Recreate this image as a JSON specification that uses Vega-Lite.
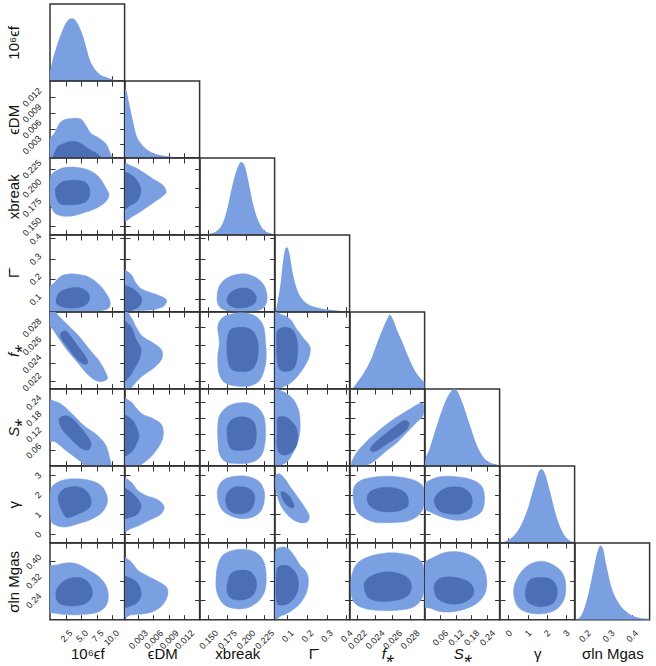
{
"$schema":"https://vega.github.io/schema/vega-lite/v6.json",
"background":"white",
"padding":{"left":5,"top":3,"right":0,"bottom":0},
"config":{
 "font":"Liberation Sans",
 "view":{"stroke":"#333333","strokeWidth":1.5},
 "axis":{"grid":false,"domain":false,"tickSize":-5,"tickColor":"#333333","tickWidth":1,"labelFontSize":9,"labelColor":"#222222","labelAngle":-45,"labelFont":"Liberation Sans","labelFlush":false,"labelOverlap":false,"titleFont":"Liberation Sans","titleFontSize":15,"titleFontWeight":"normal","titleColor":"#111111"},
 "axisX":{"labelPadding":16.5},
 "axisY":{"labelPadding":15.5},
 "concat":{"spacing":0},
 "line":{"interpolate":"cardinal-closed","strokeWidth":0.5},
 "area":{"interpolate":"monotone","color":"#7aa0e1"}
},
"datasets":{
"d0":[{"x":0,"d":0.121},{"x":0.43,"d":0.273},{"x":1.23,"d":0.489},{"x":2.03,"d":0.662},{"x":2.83,"d":0.784},{"x":3.52,"d":0.814},{"x":4.05,"d":0.792},{"x":4.69,"d":0.706},{"x":5.33,"d":0.576},{"x":5.87,"d":0.424},{"x":6.4,"d":0.273},{"x":7.09,"d":0.165},{"x":7.89,"d":0.091},{"x":8.96,"d":0.048},{"x":10.3,"d":0.013},{"x":11.6,"d":0.002},{"x":12,"d":0}],
"d1":[{"x":0.0005,"d":0.9},{"x":0.0007,"d":0.89},{"x":0.0013,"d":0.709},{"x":0.002,"d":0.491},{"x":0.0026,"d":0.317},{"x":0.0036,"d":0.187},{"x":0.0049,"d":0.1},{"x":0.0065,"d":0.048},{"x":0.0085,"d":0.022},{"x":0.0111,"d":0.004},{"x":0.015,"d":0}],
"d2":[{"x":0.139,"d":0},{"x":0.1516,"d":0.013},{"x":0.1605,"d":0.043},{"x":0.1695,"d":0.151},{"x":0.1762,"d":0.366},{"x":0.183,"d":0.668},{"x":0.1897,"d":0.884},{"x":0.1942,"d":0.948},{"x":0.1986,"d":0.905},{"x":0.2045,"d":0.668},{"x":0.2099,"d":0.409},{"x":0.2166,"d":0.194},{"x":0.2242,"d":0.065},{"x":0.2323,"d":0.022},{"x":0.239,"d":0.004}],
"d3":[{"x":0.037,"d":0},{"x":0.042,"d":0.02},{"x":0.049,"d":0.118},{"x":0.066,"d":0.376},{"x":0.079,"d":0.677},{"x":0.091,"d":0.828},{"x":0.1,"d":0.841},{"x":0.11,"d":0.763},{"x":0.127,"d":0.505},{"x":0.144,"d":0.333},{"x":0.165,"d":0.204},{"x":0.198,"d":0.11},{"x":0.25,"d":0.054},{"x":0.318,"d":0.024},{"x":0.403,"d":0.006},{"x":0.417,"d":0.005}],
"d4":[{"x":0.0212,"d":0},{"x":0.0215,"d":0.01},{"x":0.022,"d":0.082},{"x":0.0228,"d":0.212},{"x":0.0236,"d":0.384},{"x":0.0243,"d":0.6},{"x":0.0249,"d":0.773},{"x":0.0255,"d":0.924},{"x":0.0257,"d":0.968},{"x":0.0261,"d":0.903},{"x":0.0266,"d":0.752},{"x":0.0272,"d":0.6},{"x":0.0278,"d":0.428},{"x":0.0286,"d":0.233},{"x":0.0293,"d":0.125},{"x":0.0297,"d":0.082}],
"d5":[{"x":0.003,"d":0.047},{"x":0.0055,"d":0.091},{"x":0.0183,"d":0.198},{"x":0.0437,"d":0.478},{"x":0.0692,"d":0.737},{"x":0.0946,"d":0.931},{"x":0.1137,"d":0.996},{"x":0.126,"d":0.974},{"x":0.1455,"d":0.823},{"x":0.171,"d":0.565},{"x":0.1964,"d":0.306},{"x":0.2218,"d":0.134},{"x":0.2473,"d":0.047},{"x":0.2791,"d":0.013},{"x":0.288,"d":0.004}],
"d6":[{"x":-0.44,"d":0},{"x":-0.039,"d":0.033},{"x":0.31,"d":0.098},{"x":0.66,"d":0.227},{"x":1.01,"d":0.443},{"x":1.36,"d":0.745},{"x":1.62,"d":0.94},{"x":1.74,"d":0.961},{"x":1.88,"d":0.918},{"x":2.14,"d":0.702},{"x":2.4,"d":0.443},{"x":2.67,"d":0.227},{"x":2.93,"d":0.098},{"x":3.19,"d":0.033},{"x":3.45,"d":0.011}],
"d7":[{"x":0.16,"d":0},{"x":0.1733,"d":0.011},{"x":0.1943,"d":0.106},{"x":0.2153,"d":0.321},{"x":0.2363,"d":0.623},{"x":0.2545,"d":0.882},{"x":0.2671,"d":0.968},{"x":0.2783,"d":0.925},{"x":0.2923,"d":0.709},{"x":0.3113,"d":0.45},{"x":0.3413,"d":0.235},{"x":0.3763,"d":0.106},{"x":0.4113,"d":0.041},{"x":0.4673,"d":0.011},{"x":0.475,"d":0.01}],
"p10":[{"c":"o","x":-0.4,"y":-0.0003},{"c":"o","x":-0.4,"y":0.0032},{"c":"o","x":0.69,"y":0.0051},{"c":"o","x":1.76,"y":0.0073},{"c":"o","x":3.36,"y":0.0079},{"c":"o","x":4.96,"y":0.0078},{"c":"o","x":5.87,"y":0.0064},{"c":"o","x":6.56,"y":0.0051},{"c":"o","x":7.89,"y":0.0042},{"c":"o","x":8.96,"y":0.0032},{"c":"o","x":9.6,"y":0.0016},{"c":"o","x":9.8,"y":-0.0003},{"c":"o","x":5,"y":-0.0003},
{"c":"i","x":0.69,"y":-0.0003},{"c":"i","x":1.07,"y":0.0023},{"c":"i","x":2.29,"y":0.0032},{"c":"i","x":3.63,"y":0.0036},{"c":"i","x":4.96,"y":0.0032},{"c":"i","x":6.29,"y":0.0021},{"c":"i","x":7.63,"y":0.0012},{"c":"i","x":8.43,"y":-0.0003},{"c":"i","x":4.5,"y":-0.0003}],
"p20":[{"c":"o","x":0.43,"y":0.219},{"c":"o","x":2.03,"y":0.226},{"c":"o","x":4.16,"y":0.227},{"c":"o","x":6.29,"y":0.223},{"c":"o","x":7.89,"y":0.214},{"c":"o","x":9.07,"y":0.199},{"c":"o","x":9.49,"y":0.191},{"c":"o","x":8.96,"y":0.182},{"c":"o","x":7.36,"y":0.173},{"c":"o","x":5.23,"y":0.167},{"c":"o","x":3.09,"y":0.163},{"c":"o","x":1.23,"y":0.165},{"c":"o","x":0.32,"y":0.173},{"c":"o","x":-0.2,"y":0.193},{"c":"o","x":0,"y":0.21},
{"c":"i","x":0.96,"y":0.2},{"c":"i","x":2.03,"y":0.208},{"c":"i","x":4.16,"y":0.21},{"c":"i","x":5.76,"y":0.207},{"c":"i","x":6.4,"y":0.197},{"c":"i","x":6.19,"y":0.186},{"c":"i","x":5.23,"y":0.18},{"c":"i","x":3.36,"y":0.178},{"c":"i","x":1.76,"y":0.179},{"c":"i","x":1.07,"y":0.186},{"c":"i","x":0.85,"y":0.195}],
"p21":[{"c":"o","x":0.0001,"y":0.2295},{"c":"o","x":0.002,"y":0.228},{"c":"o","x":0.0039,"y":0.221},{"c":"o","x":0.0059,"y":0.212},{"c":"o","x":0.0078,"y":0.204},{"c":"o","x":0.0085,"y":0.195},{"c":"o","x":0.0078,"y":0.189},{"c":"o","x":0.0059,"y":0.18},{"c":"o","x":0.0039,"y":0.171},{"c":"o","x":0.002,"y":0.163},{"c":"o","x":0.0001,"y":0.158},{"c":"o","x":0.0001,"y":0.195},
{"c":"i","x":0.0001,"y":0.219},{"c":"i","x":0.0017,"y":0.217},{"c":"i","x":0.003,"y":0.208},{"c":"i","x":0.0036,"y":0.197},{"c":"i","x":0.003,"y":0.184},{"c":"i","x":0.0017,"y":0.178},{"c":"i","x":0.0001,"y":0.173},{"c":"i","x":0.0001,"y":0.196}],
"p30":[{"c":"o","x":-0.4,"y":0.025},{"c":"o","x":-0.4,"y":0.139},{"c":"o","x":0.69,"y":0.18},{"c":"o","x":1.76,"y":0.213},{"c":"o","x":3.09,"y":0.224},{"c":"o","x":4.69,"y":0.221},{"c":"o","x":6.29,"y":0.208},{"c":"o","x":7.89,"y":0.172},{"c":"o","x":8.96,"y":0.131},{"c":"o","x":9.65,"y":0.09},{"c":"o","x":9.49,"y":0.057},{"c":"o","x":8.43,"y":0.043},{"c":"o","x":6.83,"y":0.03},{"c":"o","x":3,"y":0.025},
{"c":"i","x":0.96,"y":0.09},{"c":"i","x":1.49,"y":0.131},{"c":"i","x":2.83,"y":0.151},{"c":"i","x":4.69,"y":0.156},{"c":"i","x":5.87,"y":0.139},{"c":"i","x":6.4,"y":0.107},{"c":"i","x":5.87,"y":0.074},{"c":"i","x":4.43,"y":0.057},{"c":"i","x":2.56,"y":0.057},{"c":"i","x":1.39,"y":0.069}],
"p31":[{"c":"o","x":0.0001,"y":0.237},{"c":"o","x":0.0017,"y":0.221},{"c":"o","x":0.0026,"y":0.18},{"c":"o","x":0.0039,"y":0.147},{"c":"o","x":0.0065,"y":0.123},{"c":"o","x":0.0085,"y":0.098},{"c":"o","x":0.0081,"y":0.066},{"c":"o","x":0.0065,"y":0.049},{"c":"o","x":0.0046,"y":0.044},{"c":"o","x":0.002,"y":0.041},{"c":"o","x":0.0001,"y":0.03},{"c":"o","x":0.0001,"y":0.13},
{"c":"i","x":0.0001,"y":0.164},{"c":"i","x":0.0017,"y":0.156},{"c":"i","x":0.003,"y":0.131},{"c":"i","x":0.0038,"y":0.098},{"c":"i","x":0.0032,"y":0.062},{"c":"i","x":0.0017,"y":0.044},{"c":"i","x":0.0001,"y":0.03},{"c":"i","x":0.0001,"y":0.1}],
"p32":[{"c":"o","x":0.1619,"y":0.115},{"c":"o","x":0.165,"y":0.164},{"c":"o","x":0.174,"y":0.201},{"c":"o","x":0.1874,"y":0.221},{"c":"o","x":0.2009,"y":0.224},{"c":"o","x":0.2143,"y":0.205},{"c":"o","x":0.2242,"y":0.172},{"c":"o","x":0.2287,"y":0.123},{"c":"o","x":0.2278,"y":0.079},{"c":"o","x":0.2211,"y":0.049},{"c":"o","x":0.2054,"y":0.037},{"c":"o","x":0.1829,"y":0.037},{"c":"o","x":0.1695,"y":0.049},{"c":"o","x":0.1632,"y":0.074},
{"c":"i","x":0.1753,"y":0.098},{"c":"i","x":0.1807,"y":0.134},{"c":"i","x":0.1942,"y":0.154},{"c":"i","x":0.2063,"y":0.147},{"c":"i","x":0.214,"y":0.115},{"c":"i","x":0.2122,"y":0.079},{"c":"i","x":0.2009,"y":0.059},{"c":"i","x":0.1874,"y":0.057},{"c":"i","x":0.1776,"y":0.072}],
"p40":[{"c":"o","x":-0.4,"y":0.0294},{"c":"o","x":0.43,"y":0.0299},{"c":"o","x":1.49,"y":0.0292},{"c":"o","x":3.09,"y":0.0281},{"c":"o","x":4.69,"y":0.027},{"c":"o","x":6.29,"y":0.0256},{"c":"o","x":7.89,"y":0.0243},{"c":"o","x":8.96,"y":0.023},{"c":"o","x":9.23,"y":0.0223},{"c":"o","x":8.43,"y":0.022},{"c":"o","x":7.36,"y":0.0221},{"c":"o","x":6.03,"y":0.0228},{"c":"o","x":4.43,"y":0.0241},{"c":"o","x":2.83,"y":0.0254},{"c":"o","x":1.49,"y":0.0267},{"c":"o","x":0.43,"y":0.0278},{"c":"o","x":-0.4,"y":0.0283},
{"c":"i","x":1.76,"y":0.0274},{"c":"i","x":2.56,"y":0.0276},{"c":"i","x":3.36,"y":0.027},{"c":"i","x":4.43,"y":0.026},{"c":"i","x":5.49,"y":0.025},{"c":"i","x":6.03,"y":0.0243},{"c":"i","x":5.87,"y":0.0239},{"c":"i","x":4.96,"y":0.0241},{"c":"i","x":3.89,"y":0.0248},{"c":"i","x":2.83,"y":0.0258},{"c":"i","x":2.03,"y":0.0265},{"c":"i","x":1.65,"y":0.027}],
"p41":[{"c":"o","x":0.0001,"y":0.0299},{"c":"o","x":0.0017,"y":0.0291},{"c":"o","x":0.0026,"y":0.0281},{"c":"o","x":0.0039,"y":0.027},{"c":"o","x":0.0059,"y":0.0263},{"c":"o","x":0.0075,"y":0.0256},{"c":"o","x":0.0078,"y":0.0248},{"c":"o","x":0.0072,"y":0.0241},{"c":"o","x":0.0059,"y":0.0234},{"c":"o","x":0.0039,"y":0.0226},{"c":"o","x":0.0026,"y":0.0219},{"c":"o","x":0.0013,"y":0.0211},{"c":"o","x":0.0001,"y":0.0211},{"c":"o","x":0.0001,"y":0.025},
{"c":"i","x":0.0001,"y":0.0285},{"c":"i","x":0.0017,"y":0.028},{"c":"i","x":0.0026,"y":0.0267},{"c":"i","x":0.0036,"y":0.0256},{"c":"i","x":0.0033,"y":0.0245},{"c":"i","x":0.0023,"y":0.0234},{"c":"i","x":0.0013,"y":0.0225},{"c":"i","x":0.0001,"y":0.0221},{"c":"i","x":0.0001,"y":0.025}],
"p42":[{"c":"o","x":0.1628,"y":0.0281},{"c":"o","x":0.1695,"y":0.0291},{"c":"o","x":0.1829,"y":0.0295},{"c":"o","x":0.1986,"y":0.0296},{"c":"o","x":0.2143,"y":0.0292},{"c":"o","x":0.2242,"y":0.0281},{"c":"o","x":0.2269,"y":0.0263},{"c":"o","x":0.2278,"y":0.0248},{"c":"o","x":0.2255,"y":0.0234},{"c":"o","x":0.2188,"y":0.0221},{"c":"o","x":0.2054,"y":0.0215},{"c":"o","x":0.1874,"y":0.0215},{"c":"o","x":0.1717,"y":0.0219},{"c":"o","x":0.1641,"y":0.023},{"c":"o","x":0.1628,"y":0.0248},{"c":"o","x":0.165,"y":0.0263},
{"c":"i","x":0.1762,"y":0.027},{"c":"i","x":0.1807,"y":0.0278},{"c":"i","x":0.1964,"y":0.028},{"c":"i","x":0.2099,"y":0.0276},{"c":"i","x":0.2166,"y":0.0263},{"c":"i","x":0.2166,"y":0.0248},{"c":"i","x":0.2121,"y":0.0237},{"c":"i","x":0.2054,"y":0.0232},{"c":"i","x":0.1919,"y":0.0231},{"c":"i","x":0.1807,"y":0.0234},{"c":"i","x":0.1762,"y":0.0245},{"c":"i","x":0.1749,"y":0.026}],
"p43":[{"c":"o","x":0.03,"y":0.0293},{"c":"o","x":0.071,"y":0.0294},{"c":"o","x":0.114,"y":0.0289},{"c":"o","x":0.148,"y":0.0278},{"c":"o","x":0.182,"y":0.0268},{"c":"o","x":0.216,"y":0.0258},{"c":"o","x":0.207,"y":0.0245},{"c":"o","x":0.173,"y":0.0232},{"c":"o","x":0.131,"y":0.0221},{"c":"o","x":0.088,"y":0.0215},{"c":"o","x":0.03,"y":0.0213},{"c":"o","x":0.03,"y":0.025},
{"c":"i","x":0.049,"y":0.0276},{"c":"i","x":0.088,"y":0.028},{"c":"i","x":0.131,"y":0.0276},{"c":"i","x":0.151,"y":0.0263},{"c":"i","x":0.151,"y":0.0248},{"c":"i","x":0.134,"y":0.0235},{"c":"i","x":0.097,"y":0.0231},{"c":"i","x":0.059,"y":0.0234},{"c":"i","x":0.046,"y":0.0248},{"c":"i","x":0.046,"y":0.0263}],
"p50":[{"c":"o","x":-0.4,"y":0.2376},{"c":"o","x":0.85,"y":0.2413},{"c":"o","x":2.03,"y":0.2279},{"c":"o","x":3.63,"y":0.1946},{"c":"o","x":5.49,"y":0.1517},{"c":"o","x":7.36,"y":0.121},{"c":"o","x":8.85,"y":0.084},{"c":"o","x":9.49,"y":0.041},{"c":"o","x":9.6,"y":-0.005},{"c":"o","x":6.29,"y":-0.005},{"c":"o","x":4.69,"y":0.0227},{"c":"o","x":2.56,"y":0.0595},{"c":"o","x":0.96,"y":0.0902},{"c":"o","x":-0.4,"y":0.1087},
{"c":"i","x":1.49,"y":0.1762},{"c":"i","x":2.29,"y":0.1885},{"c":"i","x":3.36,"y":0.1824},{"c":"i","x":4.43,"y":0.1578},{"c":"i","x":5.76,"y":0.121},{"c":"i","x":6.56,"y":0.0902},{"c":"i","x":6.4,"y":0.0657},{"c":"i","x":5.49,"y":0.062},{"c":"i","x":4.16,"y":0.084},{"c":"i","x":2.83,"y":0.1148},{"c":"i","x":1.76,"y":0.1455}],
"p51":[{"c":"o","x":0.0001,"y":0.2438},{"c":"o","x":0.0017,"y":0.2401},{"c":"o","x":0.0026,"y":0.2193},{"c":"o","x":0.0039,"y":0.1946},{"c":"o","x":0.0055,"y":0.1824},{"c":"o","x":0.0072,"y":0.164},{"c":"o","x":0.0079,"y":0.1393},{"c":"o","x":0.0078,"y":0.1025},{"c":"o","x":0.0068,"y":0.0657},{"c":"o","x":0.0055,"y":0.035},{"c":"o","x":0.0039,"y":0.0104},{"c":"o","x":0.0026,"y":-0.005},{"c":"o","x":0.0001,"y":-0.005},{"c":"o","x":0.0001,"y":0.12},
{"c":"i","x":0.0001,"y":0.1885},{"c":"i","x":0.0017,"y":0.1762},{"c":"i","x":0.0026,"y":0.1517},{"c":"i","x":0.0032,"y":0.1148},{"c":"i","x":0.0026,"y":0.078},{"c":"i","x":0.0017,"y":0.0534},{"c":"i","x":0.0001,"y":0.041},{"c":"i","x":0.0001,"y":0.12}],
"p52":[{"c":"o","x":0.165,"y":0.1885},{"c":"o","x":0.174,"y":0.2193},{"c":"o","x":0.1874,"y":0.2353},{"c":"o","x":0.2054,"y":0.2353},{"c":"o","x":0.2188,"y":0.2131},{"c":"o","x":0.2255,"y":0.1762},{"c":"o","x":0.2269,"y":0.121},{"c":"o","x":0.2255,"y":0.078},{"c":"o","x":0.2211,"y":0.041},{"c":"o","x":0.2099,"y":0.0165},{"c":"o","x":0.1919,"y":0.0104},{"c":"o","x":0.174,"y":0.0165},{"c":"o","x":0.165,"y":0.0472},{"c":"o","x":0.1628,"y":0.1087},{"c":"o","x":0.1628,"y":0.1517},
{"c":"i","x":0.1762,"y":0.1517},{"c":"i","x":0.1829,"y":0.1762},{"c":"i","x":0.1964,"y":0.1848},{"c":"i","x":0.2099,"y":0.17},{"c":"i","x":0.2143,"y":0.1333},{"c":"i","x":0.2134,"y":0.0902},{"c":"i","x":0.2076,"y":0.0657},{"c":"i","x":0.1942,"y":0.0595},{"c":"i","x":0.1807,"y":0.0657},{"c":"i","x":0.1762,"y":0.0965},{"c":"i","x":0.1753,"y":0.127}],
"p53":[{"c":"o","x":0.03,"y":0.2746},{"c":"o","x":0.071,"y":0.2806},{"c":"o","x":0.122,"y":0.256},{"c":"o","x":0.156,"y":0.2131},{"c":"o","x":0.165,"y":0.164},{"c":"o","x":0.161,"y":0.1148},{"c":"o","x":0.139,"y":0.0657},{"c":"o","x":0.105,"y":0.0227},{"c":"o","x":0.071,"y":0.0067},{"c":"o","x":0.03,"y":-0.005},{"c":"o","x":0.03,"y":0.14},
{"c":"i","x":0.049,"y":0.1762},{"c":"i","x":0.071,"y":0.186},{"c":"i","x":0.11,"y":0.1762},{"c":"i","x":0.148,"y":0.1393},{"c":"i","x":0.151,"y":0.0902},{"c":"i","x":0.131,"y":0.0595},{"c":"i","x":0.097,"y":0.0436},{"c":"i","x":0.063,"y":0.0472},{"c":"i","x":0.046,"y":0.078},{"c":"i","x":0.049,"y":0.127}],
"p54":[{"c":"o","x":0.0214,"y":0.0165},{"c":"o","x":0.022,"y":0.0534},{"c":"o","x":0.0232,"y":0.0965},{"c":"o","x":0.0247,"y":0.1393},{"c":"o","x":0.0262,"y":0.1762},{"c":"o","x":0.0277,"y":0.207},{"c":"o","x":0.0292,"y":0.2353},{"c":"o","x":0.0296,"y":0.2253},{"c":"o","x":0.0295,"y":0.1885},{"c":"o","x":0.0288,"y":0.164},{"c":"o","x":0.0277,"y":0.127},{"c":"o","x":0.0266,"y":0.0902},{"c":"o","x":0.0254,"y":0.0595},{"c":"o","x":0.0243,"y":0.0289},{"c":"o","x":0.0232,"y":0.0067},{"c":"o","x":0.0216,"y":0.003},
{"c":"i","x":0.0235,"y":0.0657},{"c":"i","x":0.0239,"y":0.084},{"c":"i","x":0.025,"y":0.1148},{"c":"i","x":0.0262,"y":0.1455},{"c":"i","x":0.0273,"y":0.17},{"c":"i","x":0.0279,"y":0.164},{"c":"i","x":0.0277,"y":0.1393},{"c":"i","x":0.0266,"y":0.1087},{"c":"i","x":0.0254,"y":0.084},{"c":"i","x":0.0243,"y":0.0595},{"c":"i","x":0.0237,"y":0.0557}],
"p60":[{"c":"o","x":0.16,"y":2.298},{"c":"o","x":1.23,"y":2.635},{"c":"o","x":3.09,"y":2.8},{"c":"o","x":5.76,"y":2.77},{"c":"o","x":7.89,"y":2.55},{"c":"o","x":8.96,"y":2.13},{"c":"o","x":9.23,"y":1.625},{"c":"o","x":8.43,"y":1.12},{"c":"o","x":6.83,"y":0.78},{"c":"o","x":4.69,"y":0.53},{"c":"o","x":2.56,"y":0.36},{"c":"o","x":0.96,"y":0.445},{"c":"o","x":0.16,"y":0.7},{"c":"o","x":0,"y":1.5},
{"c":"i","x":1.39,"y":1.96},{"c":"i","x":2.29,"y":2.298},{"c":"i","x":4.16,"y":2.415},{"c":"i","x":5.76,"y":2.21},{"c":"i","x":6.56,"y":1.79},{"c":"i","x":6.4,"y":1.37},{"c":"i","x":5.23,"y":1.12},{"c":"i","x":3.36,"y":0.867},{"c":"i","x":2.56,"y":0.867},{"c":"i","x":1.76,"y":1.29},{"c":"i","x":1.39,"y":1.625}],
"p61":[{"c":"o","x":0.0001,"y":2.8},{"c":"o","x":0.0017,"y":2.635},{"c":"o","x":0.003,"y":2.21},{"c":"o","x":0.0046,"y":1.96},{"c":"o","x":0.0065,"y":1.79},{"c":"o","x":0.0078,"y":1.54},{"c":"o","x":0.0081,"y":1.29},{"c":"o","x":0.0072,"y":0.95},{"c":"o","x":0.0052,"y":0.7},{"c":"o","x":0.0033,"y":0.445},{"c":"o","x":0.0017,"y":0.28},{"c":"o","x":0.0001,"y":0.19},{"c":"o","x":0.0001,"y":1.5},
{"c":"i","x":0.0001,"y":2.298},{"c":"i","x":0.0017,"y":2.13},{"c":"i","x":0.0032,"y":1.71},{"c":"i","x":0.0036,"y":1.37},{"c":"i","x":0.003,"y":1.03},{"c":"i","x":0.0017,"y":0.867},{"c":"i","x":0.0001,"y":0.82},{"c":"i","x":0.0001,"y":1.5}],
"p62":[{"c":"o","x":0.1628,"y":2.298},{"c":"o","x":0.1695,"y":2.72},{"c":"o","x":0.1829,"y":2.92},{"c":"o","x":0.2009,"y":2.94},{"c":"o","x":0.2166,"y":2.72},{"c":"o","x":0.2242,"y":2.298},{"c":"o","x":0.2255,"y":1.79},{"c":"o","x":0.2211,"y":1.2},{"c":"o","x":0.2099,"y":0.867},{"c":"o","x":0.1942,"y":0.78},{"c":"o","x":0.1785,"y":0.95},{"c":"o","x":0.1673,"y":1.29},{"c":"o","x":0.1628,"y":1.79},
{"c":"i","x":0.174,"y":1.96},{"c":"i","x":0.1807,"y":2.298},{"c":"i","x":0.1919,"y":2.415},{"c":"i","x":0.2054,"y":2.298},{"c":"i","x":0.2121,"y":1.96},{"c":"i","x":0.2107,"y":1.455},{"c":"i","x":0.2031,"y":1.12},{"c":"i","x":0.1897,"y":1.03},{"c":"i","x":0.1785,"y":1.2},{"c":"i","x":0.174,"y":1.54}],
"p63":[{"c":"o","x":0.042,"y":2.97},{"c":"o","x":0.062,"y":3.05},{"c":"o","x":0.088,"y":2.8},{"c":"o","x":0.122,"y":2.298},{"c":"o","x":0.165,"y":1.71},{"c":"o","x":0.199,"y":1.2},{"c":"o","x":0.212,"y":0.867},{"c":"o","x":0.199,"y":0.61},{"c":"o","x":0.165,"y":0.58},{"c":"o","x":0.122,"y":0.78},{"c":"o","x":0.088,"y":1.12},{"c":"o","x":0.062,"y":1.54},{"c":"o","x":0.046,"y":2.04},{"c":"o","x":0.039,"y":2.46},
{"c":"i","x":0.069,"y":2.13},{"c":"i","x":0.0795,"y":2.16},{"c":"i","x":0.11,"y":1.93},{"c":"i","x":0.131,"y":1.54},{"c":"i","x":0.134,"y":1.37},{"c":"i","x":0.122,"y":1.32},{"c":"i","x":0.1,"y":1.455},{"c":"i","x":0.0795,"y":1.71},{"c":"i","x":0.069,"y":1.96}],
"p64":[{"c":"o","x":0.0216,"y":2.298},{"c":"o","x":0.0224,"y":2.72},{"c":"o","x":0.0239,"y":2.89},{"c":"o","x":0.0258,"y":2.94},{"c":"o","x":0.0277,"y":2.84},{"c":"o","x":0.029,"y":2.635},{"c":"o","x":0.0296,"y":2.298},{"c":"o","x":0.0296,"y":1.455},{"c":"o","x":0.029,"y":0.95},{"c":"o","x":0.0277,"y":0.65},{"c":"o","x":0.0258,"y":0.58},{"c":"o","x":0.0239,"y":0.61},{"c":"o","x":0.0224,"y":0.95},{"c":"o","x":0.0217,"y":1.455},
{"c":"i","x":0.0232,"y":1.96},{"c":"i","x":0.0239,"y":2.26},{"c":"i","x":0.0254,"y":2.38},{"c":"i","x":0.0269,"y":2.26},{"c":"i","x":0.0277,"y":1.96},{"c":"i","x":0.0278,"y":1.455},{"c":"i","x":0.0269,"y":1.2},{"c":"i","x":0.0254,"y":1.12},{"c":"i","x":0.0241,"y":1.25},{"c":"i","x":0.0233,"y":1.54}],
"p65":[{"c":"o","x":-0.005,"y":2.46},{"c":"o","x":0.031,"y":2.8},{"c":"o","x":0.0755,"y":2.94},{"c":"o","x":0.1391,"y":2.89},{"c":"o","x":0.1901,"y":2.72},{"c":"o","x":0.2218,"y":2.38},{"c":"o","x":0.2307,"y":1.79},{"c":"o","x":0.2218,"y":1.2},{"c":"o","x":0.1901,"y":0.867},{"c":"o","x":0.1391,"y":0.7},{"c":"o","x":0.0882,"y":0.78},{"c":"o","x":0.0374,"y":1.03},{"c":"o","x":-0.005,"y":1.37},{"c":"o","x":-0.005,"y":2.0},
{"c":"i","x":0.0374,"y":1.71},{"c":"i","x":0.0564,"y":2.13},{"c":"i","x":0.0946,"y":2.38},{"c":"i","x":0.1391,"y":2.38},{"c":"i","x":0.171,"y":2.13},{"c":"i","x":0.1837,"y":1.71},{"c":"i","x":0.1748,"y":1.29},{"c":"i","x":0.1391,"y":1.03},{"c":"i","x":0.0946,"y":1.03},{"c":"i","x":0.0564,"y":1.2}],
"p70":[{"c":"o","x":-0.3,"y":0.3698},{"c":"o","x":1.23,"y":0.386},{"c":"o","x":3.09,"y":0.394},{"c":"o","x":4.69,"y":0.386},{"c":"o","x":6.29,"y":0.363},{"c":"o","x":7.89,"y":0.336},{"c":"o","x":8.96,"y":0.302},{"c":"o","x":9.39,"y":0.261},{"c":"o","x":9.07,"y":0.22},{"c":"o","x":7.89,"y":0.193},{"c":"o","x":5.76,"y":0.182},{"c":"o","x":3.09,"y":0.18},{"c":"o","x":0.96,"y":0.186},{"c":"o","x":-0.3,"y":0.2},{"c":"o","x":-0.3,"y":0.28},
{"c":"i","x":0.96,"y":0.275},{"c":"i","x":1.76,"y":0.309},{"c":"i","x":3.09,"y":0.329},{"c":"i","x":4.96,"y":0.332},{"c":"i","x":6.29,"y":0.309},{"c":"i","x":6.83,"y":0.275},{"c":"i","x":6.4,"y":0.241},{"c":"i","x":4.96,"y":0.22},{"c":"i","x":2.56,"y":0.218},{"c":"i","x":1.23,"y":0.234}],
"p71":[{"c":"o","x":0.0001,"y":0.41},{"c":"o","x":0.0017,"y":0.397},{"c":"o","x":0.003,"y":0.363},{"c":"o","x":0.0046,"y":0.343},{"c":"o","x":0.0065,"y":0.322},{"c":"o","x":0.0085,"y":0.295},{"c":"o","x":0.0088,"y":0.261},{"c":"o","x":0.0078,"y":0.22},{"c":"o","x":0.0059,"y":0.193},{"c":"o","x":0.0033,"y":0.182},{"c":"o","x":0.0017,"y":0.18},{"c":"o","x":0.0001,"y":0.177},{"c":"o","x":0.0001,"y":0.3},
{"c":"i","x":0.0001,"y":0.336},{"c":"i","x":0.0017,"y":0.329},{"c":"i","x":0.003,"y":0.309},{"c":"i","x":0.0036,"y":0.275},{"c":"i","x":0.0033,"y":0.241},{"c":"i","x":0.002,"y":0.22},{"c":"i","x":0.0001,"y":0.214},{"c":"i","x":0.0001,"y":0.28}],
"p72":[{"c":"o","x":0.1628,"y":0.3834},{"c":"o","x":0.1695,"y":0.4243},{"c":"o","x":0.1829,"y":0.4446},{"c":"o","x":0.2009,"y":0.4487},{"c":"o","x":0.2166,"y":0.431},{"c":"o","x":0.2255,"y":0.3903},{"c":"o","x":0.2278,"y":0.329},{"c":"o","x":0.2255,"y":0.2747},{"c":"o","x":0.2166,"y":0.234},{"c":"o","x":0.2009,"y":0.207},{"c":"o","x":0.1829,"y":0.207},{"c":"o","x":0.1695,"y":0.227},{"c":"o","x":0.1614,"y":0.2747},{"c":"o","x":0.1605,"y":0.329},
{"c":"i","x":0.1762,"y":0.3156},{"c":"i","x":0.1807,"y":0.3496},{"c":"i","x":0.1919,"y":0.363},{"c":"i","x":0.2054,"y":0.359},{"c":"i","x":0.2134,"y":0.329},{"c":"i","x":0.2143,"y":0.288},{"c":"i","x":0.2076,"y":0.2545},{"c":"i","x":0.1942,"y":0.241},{"c":"i","x":0.1807,"y":0.2477},{"c":"i","x":0.1753,"y":0.2747}],
"p73":[{"c":"o","x":0.039,"y":0.4378},{"c":"o","x":0.071,"y":0.458},{"c":"o","x":0.105,"y":0.451},{"c":"o","x":0.139,"y":0.417},{"c":"o","x":0.165,"y":0.3834},{"c":"o","x":0.19,"y":0.363},{"c":"o","x":0.207,"y":0.329},{"c":"o","x":0.199,"y":0.2747},{"c":"o","x":0.165,"y":0.227},{"c":"o","x":0.114,"y":0.193},{"c":"o","x":0.071,"y":0.177},{"c":"o","x":0.03,"y":0.173},{"c":"o","x":0.03,"y":0.33},
{"c":"i","x":0.049,"y":0.37},{"c":"i","x":0.0795,"y":0.383},{"c":"i","x":0.114,"y":0.376},{"c":"i","x":0.148,"y":0.343},{"c":"i","x":0.156,"y":0.295},{"c":"i","x":0.139,"y":0.2545},{"c":"i","x":0.105,"y":0.227},{"c":"i","x":0.0625,"y":0.22},{"c":"i","x":0.0455,"y":0.234},{"c":"i","x":0.042,"y":0.3}],
"p74":[{"c":"o","x":0.0214,"y":0.343},{"c":"o","x":0.022,"y":0.3903},{"c":"o","x":0.0232,"y":0.417},{"c":"o","x":0.0247,"y":0.431},{"c":"o","x":0.0262,"y":0.435},{"c":"o","x":0.0281,"y":0.4243},{"c":"o","x":0.0292,"y":0.4035},{"c":"o","x":0.0296,"y":0.37},{"c":"o","x":0.0297,"y":0.302},{"c":"o","x":0.0294,"y":0.2477},{"c":"o","x":0.0285,"y":0.2136},{"c":"o","x":0.0269,"y":0.2},{"c":"o","x":0.0247,"y":0.1974},{"c":"o","x":0.0228,"y":0.207},{"c":"o","x":0.0216,"y":0.234},{"c":"o","x":0.0213,"y":0.288},
{"c":"i","x":0.0228,"y":0.302},{"c":"i","x":0.0232,"y":0.329},{"c":"i","x":0.0243,"y":0.3496},{"c":"i","x":0.0258,"y":0.3566},{"c":"i","x":0.0273,"y":0.343},{"c":"i","x":0.0281,"y":0.3156},{"c":"i","x":0.0281,"y":0.2747},{"c":"i","x":0.0273,"y":0.2477},{"c":"i","x":0.0258,"y":0.2368},{"c":"i","x":0.0243,"y":0.2368},{"c":"i","x":0.0232,"y":0.2545}],
"p75":[{"c":"o","x":-0.005,"y":0.3834},{"c":"o","x":0.0374,"y":0.417},{"c":"o","x":0.0882,"y":0.4378},{"c":"o","x":0.1391,"y":0.4378},{"c":"o","x":0.1901,"y":0.417},{"c":"o","x":0.2218,"y":0.3834},{"c":"o","x":0.2384,"y":0.329},{"c":"o","x":0.2346,"y":0.2747},{"c":"o","x":0.2091,"y":0.234},{"c":"o","x":0.1646,"y":0.207},{"c":"o","x":0.1137,"y":0.193},{"c":"o","x":0.0628,"y":0.193},{"c":"o","x":0.0246,"y":0.207},{"c":"o","x":-0.005,"y":0.22},{"c":"o","x":-0.005,"y":0.3},
{"c":"i","x":0.0374,"y":0.288},{"c":"i","x":0.0501,"y":0.3225},{"c":"i","x":0.0882,"y":0.336},{"c":"i","x":0.1391,"y":0.329},{"c":"i","x":0.1773,"y":0.3087},{"c":"i","x":0.1901,"y":0.2747},{"c":"i","x":0.1773,"y":0.2477},{"c":"i","x":0.1391,"y":0.227},{"c":"i","x":0.0882,"y":0.227},{"c":"i","x":0.0501,"y":0.2477}],
"p76":[{"c":"o","x":0.31,"y":0.302},{"c":"o","x":0.66,"y":0.356},{"c":"o","x":1.18,"y":0.39},{"c":"o","x":1.79,"y":0.4},{"c":"o","x":2.4,"y":0.383},{"c":"o","x":2.84,"y":0.3496},{"c":"o","x":3.0,"y":0.302},{"c":"o","x":2.93,"y":0.2477},{"c":"o","x":2.58,"y":0.207},{"c":"o","x":1.97,"y":0.186},{"c":"o","x":1.18,"y":0.186},{"c":"o","x":0.57,"y":0.207},{"c":"o","x":0.31,"y":0.2477},
{"c":"i","x":0.92,"y":0.288},{"c":"i","x":1.1,"y":0.3225},{"c":"i","x":1.53,"y":0.333},{"c":"i","x":2.14,"y":0.329},{"c":"i","x":2.49,"y":0.302},{"c":"i","x":2.54,"y":0.261},{"c":"i","x":2.32,"y":0.227},{"c":"i","x":1.71,"y":0.2136},{"c":"i","x":1.1,"y":0.227},{"c":"i","x":0.89,"y":0.2545}]
},
"columns":8,
"spacing":0,
"bounds":"flush",
"concat":[
{"width":74.6,"height":76.7,"data":{"name":"d0"},"mark":{"type":"area","clip":true},"encoding":{"x":{"field":"x","type":"quantitative","scale":{"domain":[0,12],"nice":false,"zero":false},"axis":{"orient":"bottom","values":[2.5,5,7.5,10],"labels":false,"title":null}},"y":{"field":"d","type":"quantitative","scale":{"domain":[0,1],"nice":false},"axis":{"orient":"left","ticks":false,"labels":false,"title":"10⁶ϵf","minExtent":26,"maxExtent":26,"titlePadding":3}}}},
{"width":74.6,"height":76.7,"data":{"values":[]},"mark":"point","view":{"stroke":null}},
{"width":74.6,"height":76.7,"data":{"values":[]},"mark":"point","view":{"stroke":null}},
{"width":74.6,"height":76.7,"data":{"values":[]},"mark":"point","view":{"stroke":null}},
{"width":74.6,"height":76.7,"data":{"values":[]},"mark":"point","view":{"stroke":null}},
{"width":74.6,"height":76.7,"data":{"values":[]},"mark":"point","view":{"stroke":null}},
{"width":74.6,"height":76.7,"data":{"values":[]},"mark":"point","view":{"stroke":null}},
{"width":74.6,"height":76.7,"data":{"values":[]},"mark":"point","view":{"stroke":null}},

{"width":74.6,"height":76.7,"data":{"name":"p10"},"layer":[{"transform":[{"filter":"datum.c=='o'"}],"mark":{"type":"line","fill":"#7aa0e1","stroke":"#7aa0e1","clip":true},"encoding":{"x":{"field":"x","type":"quantitative","scale":{"domain":[0,12],"nice":false,"zero":false},"axis":{"orient":"bottom","values":[2.5,5,7.5,10],"labels":false,"title":null}},"y":{"field":"y","type":"quantitative","scale":{"domain":[0.0005,0.015],"nice":false,"zero":false},"axis":{"orient":"left","values":[0.003,0.006,0.009,0.012],"format":".3f","title":"ϵDM","labelAlign":"right","labelBaseline":"middle","labelOffset":-8,"minExtent":26,"maxExtent":26,"titlePadding":3}},"order":{"value":null}}},{"transform":[{"filter":"datum.c=='i'"}],"mark":{"type":"line","fill":"#4b6eb4","stroke":"#4b6eb4","clip":true},"encoding":{"x":{"field":"x","type":"quantitative","scale":{"domain":[0,12],"nice":false,"zero":false},"axis":{"orient":"top","values":[2.5,5,7.5,10],"labels":false,"title":null}},"y":{"field":"y","type":"quantitative","scale":{"domain":[0.0005,0.015],"nice":false,"zero":false},"axis":{"orient":"right","values":[0.003,0.006,0.009,0.012],"labels":false,"title":null}},"order":{"value":null}}}],"resolve":{"axis":{"x":"independent","y":"independent"}}},
{"width":74.6,"height":76.7,"data":{"name":"d1"},"mark":{"type":"area","clip":true},"encoding":{"x":{"field":"x","type":"quantitative","scale":{"domain":[0.0005,0.015],"nice":false,"zero":false},"axis":{"orient":"bottom","values":[0.003,0.006,0.009,0.012],"labels":false,"title":null}},"y":{"field":"d","type":"quantitative","scale":{"domain":[0,1],"nice":false},"axis":null}}},
{"width":74.6,"height":76.7,"data":{"values":[]},"mark":"point","view":{"stroke":null}},
{"width":74.6,"height":76.7,"data":{"values":[]},"mark":"point","view":{"stroke":null}},
{"width":74.6,"height":76.7,"data":{"values":[]},"mark":"point","view":{"stroke":null}},
{"width":74.6,"height":76.7,"data":{"values":[]},"mark":"point","view":{"stroke":null}},
{"width":74.6,"height":76.7,"data":{"values":[]},"mark":"point","view":{"stroke":null}},
{"width":74.6,"height":76.7,"data":{"values":[]},"mark":"point","view":{"stroke":null}},

{"width":74.6,"height":76.7,"data":{"name":"p20"},"layer":[{"transform":[{"filter":"datum.c=='o'"}],"mark":{"type":"line","fill":"#7aa0e1","stroke":"#7aa0e1","clip":true},"encoding":{"x":{"field":"x","type":"quantitative","scale":{"domain":[0,12],"nice":false,"zero":false},"axis":{"orient":"bottom","values":[2.5,5,7.5,10],"labels":false,"title":null}},"y":{"field":"y","type":"quantitative","scale":{"domain":[0.139,0.239],"nice":false,"zero":false},"axis":{"orient":"left","values":[0.15,0.175,0.2,0.225],"format":".3f","title":"xbreak","labelAlign":"right","labelBaseline":"middle","labelOffset":-8,"minExtent":26,"maxExtent":26,"titlePadding":3}},"order":{"value":null}}},{"transform":[{"filter":"datum.c=='i'"}],"mark":{"type":"line","fill":"#4b6eb4","stroke":"#4b6eb4","clip":true},"encoding":{"x":{"field":"x","type":"quantitative","scale":{"domain":[0,12],"nice":false,"zero":false},"axis":{"orient":"top","values":[2.5,5,7.5,10],"labels":false,"title":null}},"y":{"field":"y","type":"quantitative","scale":{"domain":[0.139,0.239],"nice":false,"zero":false},"axis":{"orient":"right","values":[0.15,0.175,0.2,0.225],"labels":false,"title":null}},"order":{"value":null}}}],"resolve":{"axis":{"x":"independent","y":"independent"}}},
{"width":74.6,"height":76.7,"data":{"name":"p21"},"layer":[{"transform":[{"filter":"datum.c=='o'"}],"mark":{"type":"line","fill":"#7aa0e1","stroke":"#7aa0e1","clip":true},"encoding":{"x":{"field":"x","type":"quantitative","scale":{"domain":[0.0005,0.015],"nice":false,"zero":false},"axis":{"orient":"bottom","values":[0.003,0.006,0.009,0.012],"labels":false,"title":null}},"y":{"field":"y","type":"quantitative","scale":{"domain":[0.139,0.239],"nice":false,"zero":false},"axis":{"orient":"left","values":[0.15,0.175,0.2,0.225],"labels":false,"title":null}},"order":{"value":null}}},{"transform":[{"filter":"datum.c=='i'"}],"mark":{"type":"line","fill":"#4b6eb4","stroke":"#4b6eb4","clip":true},"encoding":{"x":{"field":"x","type":"quantitative","scale":{"domain":[0.0005,0.015],"nice":false,"zero":false},"axis":{"orient":"top","values":[0.003,0.006,0.009,0.012],"labels":false,"title":null}},"y":{"field":"y","type":"quantitative","scale":{"domain":[0.139,0.239],"nice":false,"zero":false},"axis":{"orient":"right","values":[0.15,0.175,0.2,0.225],"labels":false,"title":null}},"order":{"value":null}}}],"resolve":{"axis":{"x":"independent","y":"independent"}}},
{"width":74.6,"height":76.7,"data":{"name":"d2"},"mark":{"type":"area","clip":true},"encoding":{"x":{"field":"x","type":"quantitative","scale":{"domain":[0.139,0.239],"nice":false,"zero":false},"axis":{"orient":"bottom","values":[0.15,0.175,0.2,0.225],"labels":false,"title":null}},"y":{"field":"d","type":"quantitative","scale":{"domain":[0,1],"nice":false},"axis":null}}},
{"width":74.6,"height":76.7,"data":{"values":[]},"mark":"point","view":{"stroke":null}},
{"width":74.6,"height":76.7,"data":{"values":[]},"mark":"point","view":{"stroke":null}},
{"width":74.6,"height":76.7,"data":{"values":[]},"mark":"point","view":{"stroke":null}},
{"width":74.6,"height":76.7,"data":{"values":[]},"mark":"point","view":{"stroke":null}},
{"width":74.6,"height":76.7,"data":{"values":[]},"mark":"point","view":{"stroke":null}},

{"width":74.6,"height":76.7,"data":{"name":"p30"},"layer":[{"transform":[{"filter":"datum.c=='o'"}],"mark":{"type":"line","fill":"#7aa0e1","stroke":"#7aa0e1","clip":true},"encoding":{"x":{"field":"x","type":"quantitative","scale":{"domain":[0,12],"nice":false,"zero":false},"axis":{"orient":"bottom","values":[2.5,5,7.5,10],"labels":false,"title":null}},"y":{"field":"y","type":"quantitative","scale":{"domain":[0.037,0.417],"nice":false,"zero":false},"axis":{"orient":"left","values":[0.1,0.2,0.3,0.4],"format":".1f","title":"Γ̄","labelAlign":"right","labelBaseline":"middle","labelOffset":-4.4,"minExtent":26,"maxExtent":26,"titlePadding":3}},"order":{"value":null}}},{"transform":[{"filter":"datum.c=='i'"}],"mark":{"type":"line","fill":"#4b6eb4","stroke":"#4b6eb4","clip":true},"encoding":{"x":{"field":"x","type":"quantitative","scale":{"domain":[0,12],"nice":false,"zero":false},"axis":{"orient":"top","values":[2.5,5,7.5,10],"labels":false,"title":null}},"y":{"field":"y","type":"quantitative","scale":{"domain":[0.037,0.417],"nice":false,"zero":false},"axis":{"orient":"right","values":[0.1,0.2,0.3,0.4],"labels":false,"title":null}},"order":{"value":null}}}],"resolve":{"axis":{"x":"independent","y":"independent"}}},
{"width":74.6,"height":76.7,"data":{"name":"p31"},"layer":[{"transform":[{"filter":"datum.c=='o'"}],"mark":{"type":"line","fill":"#7aa0e1","stroke":"#7aa0e1","clip":true},"encoding":{"x":{"field":"x","type":"quantitative","scale":{"domain":[0.0005,0.015],"nice":false,"zero":false},"axis":{"orient":"bottom","values":[0.003,0.006,0.009,0.012],"labels":false,"title":null}},"y":{"field":"y","type":"quantitative","scale":{"domain":[0.037,0.417],"nice":false,"zero":false},"axis":{"orient":"left","values":[0.1,0.2,0.3,0.4],"labels":false,"title":null}},"order":{"value":null}}},{"transform":[{"filter":"datum.c=='i'"}],"mark":{"type":"line","fill":"#4b6eb4","stroke":"#4b6eb4","clip":true},"encoding":{"x":{"field":"x","type":"quantitative","scale":{"domain":[0.0005,0.015],"nice":false,"zero":false},"axis":{"orient":"top","values":[0.003,0.006,0.009,0.012],"labels":false,"title":null}},"y":{"field":"y","type":"quantitative","scale":{"domain":[0.037,0.417],"nice":false,"zero":false},"axis":{"orient":"right","values":[0.1,0.2,0.3,0.4],"labels":false,"title":null}},"order":{"value":null}}}],"resolve":{"axis":{"x":"independent","y":"independent"}}},
{"width":74.6,"height":76.7,"data":{"name":"p32"},"layer":[{"transform":[{"filter":"datum.c=='o'"}],"mark":{"type":"line","fill":"#7aa0e1","stroke":"#7aa0e1","clip":true},"encoding":{"x":{"field":"x","type":"quantitative","scale":{"domain":[0.139,0.239],"nice":false,"zero":false},"axis":{"orient":"bottom","values":[0.15,0.175,0.2,0.225],"labels":false,"title":null}},"y":{"field":"y","type":"quantitative","scale":{"domain":[0.037,0.417],"nice":false,"zero":false},"axis":{"orient":"left","values":[0.1,0.2,0.3,0.4],"labels":false,"title":null}},"order":{"value":null}}},{"transform":[{"filter":"datum.c=='i'"}],"mark":{"type":"line","fill":"#4b6eb4","stroke":"#4b6eb4","clip":true},"encoding":{"x":{"field":"x","type":"quantitative","scale":{"domain":[0.139,0.239],"nice":false,"zero":false},"axis":{"orient":"top","values":[0.15,0.175,0.2,0.225],"labels":false,"title":null}},"y":{"field":"y","type":"quantitative","scale":{"domain":[0.037,0.417],"nice":false,"zero":false},"axis":{"orient":"right","values":[0.1,0.2,0.3,0.4],"labels":false,"title":null}},"order":{"value":null}}}],"resolve":{"axis":{"x":"independent","y":"independent"}}},
{"width":74.6,"height":76.7,"data":{"name":"d3"},"mark":{"type":"area","clip":true},"encoding":{"x":{"field":"x","type":"quantitative","scale":{"domain":[0.037,0.417],"nice":false,"zero":false},"axis":{"orient":"bottom","values":[0.1,0.2,0.3,0.4],"labels":false,"title":null}},"y":{"field":"d","type":"quantitative","scale":{"domain":[0,1],"nice":false},"axis":null}}},
{"width":74.6,"height":76.7,"data":{"values":[]},"mark":"point","view":{"stroke":null}},
{"width":74.6,"height":76.7,"data":{"values":[]},"mark":"point","view":{"stroke":null}},
{"width":74.6,"height":76.7,"data":{"values":[]},"mark":"point","view":{"stroke":null}},
{"width":74.6,"height":76.7,"data":{"values":[]},"mark":"point","view":{"stroke":null}},

{"width":74.6,"height":76.7,"data":{"name":"p40"},"layer":[{"transform":[{"filter":"datum.c=='o'"}],"mark":{"type":"line","fill":"#7aa0e1","stroke":"#7aa0e1","clip":true},"encoding":{"x":{"field":"x","type":"quantitative","scale":{"domain":[0,12],"nice":false,"zero":false},"axis":{"orient":"bottom","values":[2.5,5,7.5,10],"labels":false,"title":null}},"y":{"field":"y","type":"quantitative","scale":{"domain":[0.0212,0.0297],"nice":false,"zero":false},"axis":{"orient":"left","values":[0.022,0.024,0.026,0.028],"format":".3f","title":"f⁎","titleFontStyle":"italic","labelAlign":"right","labelBaseline":"middle","labelOffset":-8,"minExtent":26,"maxExtent":26,"titlePadding":3}},"order":{"value":null}}},{"transform":[{"filter":"datum.c=='i'"}],"mark":{"type":"line","fill":"#4b6eb4","stroke":"#4b6eb4","clip":true},"encoding":{"x":{"field":"x","type":"quantitative","scale":{"domain":[0,12],"nice":false,"zero":false},"axis":{"orient":"top","values":[2.5,5,7.5,10],"labels":false,"title":null}},"y":{"field":"y","type":"quantitative","scale":{"domain":[0.0212,0.0297],"nice":false,"zero":false},"axis":{"orient":"right","values":[0.022,0.024,0.026,0.028],"labels":false,"title":null}},"order":{"value":null}}}],"resolve":{"axis":{"x":"independent","y":"independent"}}},
{"width":74.6,"height":76.7,"data":{"name":"p41"},"layer":[{"transform":[{"filter":"datum.c=='o'"}],"mark":{"type":"line","fill":"#7aa0e1","stroke":"#7aa0e1","clip":true},"encoding":{"x":{"field":"x","type":"quantitative","scale":{"domain":[0.0005,0.015],"nice":false,"zero":false},"axis":{"orient":"bottom","values":[0.003,0.006,0.009,0.012],"labels":false,"title":null}},"y":{"field":"y","type":"quantitative","scale":{"domain":[0.0212,0.0297],"nice":false,"zero":false},"axis":{"orient":"left","values":[0.022,0.024,0.026,0.028],"labels":false,"title":null}},"order":{"value":null}}},{"transform":[{"filter":"datum.c=='i'"}],"mark":{"type":"line","fill":"#4b6eb4","stroke":"#4b6eb4","clip":true},"encoding":{"x":{"field":"x","type":"quantitative","scale":{"domain":[0.0005,0.015],"nice":false,"zero":false},"axis":{"orient":"top","values":[0.003,0.006,0.009,0.012],"labels":false,"title":null}},"y":{"field":"y","type":"quantitative","scale":{"domain":[0.0212,0.0297],"nice":false,"zero":false},"axis":{"orient":"right","values":[0.022,0.024,0.026,0.028],"labels":false,"title":null}},"order":{"value":null}}}],"resolve":{"axis":{"x":"independent","y":"independent"}}},
{"width":74.6,"height":76.7,"data":{"name":"p42"},"layer":[{"transform":[{"filter":"datum.c=='o'"}],"mark":{"type":"line","fill":"#7aa0e1","stroke":"#7aa0e1","clip":true},"encoding":{"x":{"field":"x","type":"quantitative","scale":{"domain":[0.139,0.239],"nice":false,"zero":false},"axis":{"orient":"bottom","values":[0.15,0.175,0.2,0.225],"labels":false,"title":null}},"y":{"field":"y","type":"quantitative","scale":{"domain":[0.0212,0.0297],"nice":false,"zero":false},"axis":{"orient":"left","values":[0.022,0.024,0.026,0.028],"labels":false,"title":null}},"order":{"value":null}}},{"transform":[{"filter":"datum.c=='i'"}],"mark":{"type":"line","fill":"#4b6eb4","stroke":"#4b6eb4","clip":true},"encoding":{"x":{"field":"x","type":"quantitative","scale":{"domain":[0.139,0.239],"nice":false,"zero":false},"axis":{"orient":"top","values":[0.15,0.175,0.2,0.225],"labels":false,"title":null}},"y":{"field":"y","type":"quantitative","scale":{"domain":[0.0212,0.0297],"nice":false,"zero":false},"axis":{"orient":"right","values":[0.022,0.024,0.026,0.028],"labels":false,"title":null}},"order":{"value":null}}}],"resolve":{"axis":{"x":"independent","y":"independent"}}},
{"width":74.6,"height":76.7,"data":{"name":"p43"},"layer":[{"transform":[{"filter":"datum.c=='o'"}],"mark":{"type":"line","fill":"#7aa0e1","stroke":"#7aa0e1","clip":true},"encoding":{"x":{"field":"x","type":"quantitative","scale":{"domain":[0.037,0.417],"nice":false,"zero":false},"axis":{"orient":"bottom","values":[0.1,0.2,0.3,0.4],"labels":false,"title":null}},"y":{"field":"y","type":"quantitative","scale":{"domain":[0.0212,0.0297],"nice":false,"zero":false},"axis":{"orient":"left","values":[0.022,0.024,0.026,0.028],"labels":false,"title":null}},"order":{"value":null}}},{"transform":[{"filter":"datum.c=='i'"}],"mark":{"type":"line","fill":"#4b6eb4","stroke":"#4b6eb4","clip":true},"encoding":{"x":{"field":"x","type":"quantitative","scale":{"domain":[0.037,0.417],"nice":false,"zero":false},"axis":{"orient":"top","values":[0.1,0.2,0.3,0.4],"labels":false,"title":null}},"y":{"field":"y","type":"quantitative","scale":{"domain":[0.0212,0.0297],"nice":false,"zero":false},"axis":{"orient":"right","values":[0.022,0.024,0.026,0.028],"labels":false,"title":null}},"order":{"value":null}}}],"resolve":{"axis":{"x":"independent","y":"independent"}}},
{"width":74.6,"height":76.7,"data":{"name":"d4"},"mark":{"type":"area","clip":true},"encoding":{"x":{"field":"x","type":"quantitative","scale":{"domain":[0.0212,0.0297],"nice":false,"zero":false},"axis":{"orient":"bottom","values":[0.022,0.024,0.026,0.028],"labels":false,"title":null}},"y":{"field":"d","type":"quantitative","scale":{"domain":[0,1],"nice":false},"axis":null}}},
{"width":74.6,"height":76.7,"data":{"values":[]},"mark":"point","view":{"stroke":null}},
{"width":74.6,"height":76.7,"data":{"values":[]},"mark":"point","view":{"stroke":null}},
{"width":74.6,"height":76.7,"data":{"values":[]},"mark":"point","view":{"stroke":null}},

{"width":74.6,"height":76.7,"data":{"name":"p50"},"layer":[{"transform":[{"filter":"datum.c=='o'"}],"mark":{"type":"line","fill":"#7aa0e1","stroke":"#7aa0e1","clip":true},"encoding":{"x":{"field":"x","type":"quantitative","scale":{"domain":[0,12],"nice":false,"zero":false},"axis":{"orient":"bottom","values":[2.5,5,7.5,10],"labels":false,"title":null}},"y":{"field":"y","type":"quantitative","scale":{"domain":[0.003,0.288],"nice":false,"zero":false},"axis":{"orient":"left","values":[0.06,0.12,0.18,0.24],"format":".2f","title":"S⁎","titleFontStyle":"italic","labelAlign":"right","labelBaseline":"middle","labelOffset":-6.2,"minExtent":26,"maxExtent":26,"titlePadding":3}},"order":{"value":null}}},{"transform":[{"filter":"datum.c=='i'"}],"mark":{"type":"line","fill":"#4b6eb4","stroke":"#4b6eb4","clip":true},"encoding":{"x":{"field":"x","type":"quantitative","scale":{"domain":[0,12],"nice":false,"zero":false},"axis":{"orient":"top","values":[2.5,5,7.5,10],"labels":false,"title":null}},"y":{"field":"y","type":"quantitative","scale":{"domain":[0.003,0.288],"nice":false,"zero":false},"axis":{"orient":"right","values":[0.06,0.12,0.18,0.24],"labels":false,"title":null}},"order":{"value":null}}}],"resolve":{"axis":{"x":"independent","y":"independent"}}},
{"width":74.6,"height":76.7,"data":{"name":"p51"},"layer":[{"transform":[{"filter":"datum.c=='o'"}],"mark":{"type":"line","fill":"#7aa0e1","stroke":"#7aa0e1","clip":true},"encoding":{"x":{"field":"x","type":"quantitative","scale":{"domain":[0.0005,0.015],"nice":false,"zero":false},"axis":{"orient":"bottom","values":[0.003,0.006,0.009,0.012],"labels":false,"title":null}},"y":{"field":"y","type":"quantitative","scale":{"domain":[0.003,0.288],"nice":false,"zero":false},"axis":{"orient":"left","values":[0.06,0.12,0.18,0.24],"labels":false,"title":null}},"order":{"value":null}}},{"transform":[{"filter":"datum.c=='i'"}],"mark":{"type":"line","fill":"#4b6eb4","stroke":"#4b6eb4","clip":true},"encoding":{"x":{"field":"x","type":"quantitative","scale":{"domain":[0.0005,0.015],"nice":false,"zero":false},"axis":{"orient":"top","values":[0.003,0.006,0.009,0.012],"labels":false,"title":null}},"y":{"field":"y","type":"quantitative","scale":{"domain":[0.003,0.288],"nice":false,"zero":false},"axis":{"orient":"right","values":[0.06,0.12,0.18,0.24],"labels":false,"title":null}},"order":{"value":null}}}],"resolve":{"axis":{"x":"independent","y":"independent"}}},
{"width":74.6,"height":76.7,"data":{"name":"p52"},"layer":[{"transform":[{"filter":"datum.c=='o'"}],"mark":{"type":"line","fill":"#7aa0e1","stroke":"#7aa0e1","clip":true},"encoding":{"x":{"field":"x","type":"quantitative","scale":{"domain":[0.139,0.239],"nice":false,"zero":false},"axis":{"orient":"bottom","values":[0.15,0.175,0.2,0.225],"labels":false,"title":null}},"y":{"field":"y","type":"quantitative","scale":{"domain":[0.003,0.288],"nice":false,"zero":false},"axis":{"orient":"left","values":[0.06,0.12,0.18,0.24],"labels":false,"title":null}},"order":{"value":null}}},{"transform":[{"filter":"datum.c=='i'"}],"mark":{"type":"line","fill":"#4b6eb4","stroke":"#4b6eb4","clip":true},"encoding":{"x":{"field":"x","type":"quantitative","scale":{"domain":[0.139,0.239],"nice":false,"zero":false},"axis":{"orient":"top","values":[0.15,0.175,0.2,0.225],"labels":false,"title":null}},"y":{"field":"y","type":"quantitative","scale":{"domain":[0.003,0.288],"nice":false,"zero":false},"axis":{"orient":"right","values":[0.06,0.12,0.18,0.24],"labels":false,"title":null}},"order":{"value":null}}}],"resolve":{"axis":{"x":"independent","y":"independent"}}},
{"width":74.6,"height":76.7,"data":{"name":"p53"},"layer":[{"transform":[{"filter":"datum.c=='o'"}],"mark":{"type":"line","fill":"#7aa0e1","stroke":"#7aa0e1","clip":true},"encoding":{"x":{"field":"x","type":"quantitative","scale":{"domain":[0.037,0.417],"nice":false,"zero":false},"axis":{"orient":"bottom","values":[0.1,0.2,0.3,0.4],"labels":false,"title":null}},"y":{"field":"y","type":"quantitative","scale":{"domain":[0.003,0.288],"nice":false,"zero":false},"axis":{"orient":"left","values":[0.06,0.12,0.18,0.24],"labels":false,"title":null}},"order":{"value":null}}},{"transform":[{"filter":"datum.c=='i'"}],"mark":{"type":"line","fill":"#4b6eb4","stroke":"#4b6eb4","clip":true},"encoding":{"x":{"field":"x","type":"quantitative","scale":{"domain":[0.037,0.417],"nice":false,"zero":false},"axis":{"orient":"top","values":[0.1,0.2,0.3,0.4],"labels":false,"title":null}},"y":{"field":"y","type":"quantitative","scale":{"domain":[0.003,0.288],"nice":false,"zero":false},"axis":{"orient":"right","values":[0.06,0.12,0.18,0.24],"labels":false,"title":null}},"order":{"value":null}}}],"resolve":{"axis":{"x":"independent","y":"independent"}}},
{"width":74.6,"height":76.7,"data":{"name":"p54"},"layer":[{"transform":[{"filter":"datum.c=='o'"}],"mark":{"type":"line","fill":"#7aa0e1","stroke":"#7aa0e1","clip":true},"encoding":{"x":{"field":"x","type":"quantitative","scale":{"domain":[0.0212,0.0297],"nice":false,"zero":false},"axis":{"orient":"bottom","values":[0.022,0.024,0.026,0.028],"labels":false,"title":null}},"y":{"field":"y","type":"quantitative","scale":{"domain":[0.003,0.288],"nice":false,"zero":false},"axis":{"orient":"left","values":[0.06,0.12,0.18,0.24],"labels":false,"title":null}},"order":{"value":null}}},{"transform":[{"filter":"datum.c=='i'"}],"mark":{"type":"line","fill":"#4b6eb4","stroke":"#4b6eb4","clip":true},"encoding":{"x":{"field":"x","type":"quantitative","scale":{"domain":[0.0212,0.0297],"nice":false,"zero":false},"axis":{"orient":"top","values":[0.022,0.024,0.026,0.028],"labels":false,"title":null}},"y":{"field":"y","type":"quantitative","scale":{"domain":[0.003,0.288],"nice":false,"zero":false},"axis":{"orient":"right","values":[0.06,0.12,0.18,0.24],"labels":false,"title":null}},"order":{"value":null}}}],"resolve":{"axis":{"x":"independent","y":"independent"}}},
{"width":74.6,"height":76.7,"data":{"name":"d5"},"mark":{"type":"area","clip":true},"encoding":{"x":{"field":"x","type":"quantitative","scale":{"domain":[0.003,0.288],"nice":false,"zero":false},"axis":{"orient":"bottom","values":[0.06,0.12,0.18,0.24],"labels":false,"title":null}},"y":{"field":"d","type":"quantitative","scale":{"domain":[0,1],"nice":false},"axis":null}}},
{"width":74.6,"height":76.7,"data":{"values":[]},"mark":"point","view":{"stroke":null}},
{"width":74.6,"height":76.7,"data":{"values":[]},"mark":"point","view":{"stroke":null}},

{"width":74.6,"height":76.7,"data":{"name":"p60"},"layer":[{"transform":[{"filter":"datum.c=='o'"}],"mark":{"type":"line","fill":"#7aa0e1","stroke":"#7aa0e1","clip":true},"encoding":{"x":{"field":"x","type":"quantitative","scale":{"domain":[0,12],"nice":false,"zero":false},"axis":{"orient":"bottom","values":[2.5,5,7.5,10],"labels":false,"title":null}},"y":{"field":"y","type":"quantitative","scale":{"domain":[-0.44,3.46],"nice":false,"zero":false},"axis":{"orient":"left","values":[0,1,2,3],"format":"d","title":"γ","labelAlign":"right","labelBaseline":"middle","labelOffset":-1.8,"minExtent":26,"maxExtent":26,"titlePadding":3}},"order":{"value":null}}},{"transform":[{"filter":"datum.c=='i'"}],"mark":{"type":"line","fill":"#4b6eb4","stroke":"#4b6eb4","clip":true},"encoding":{"x":{"field":"x","type":"quantitative","scale":{"domain":[0,12],"nice":false,"zero":false},"axis":{"orient":"top","values":[2.5,5,7.5,10],"labels":false,"title":null}},"y":{"field":"y","type":"quantitative","scale":{"domain":[-0.44,3.46],"nice":false,"zero":false},"axis":{"orient":"right","values":[0,1,2,3],"labels":false,"title":null}},"order":{"value":null}}}],"resolve":{"axis":{"x":"independent","y":"independent"}}},
{"width":74.6,"height":76.7,"data":{"name":"p61"},"layer":[{"transform":[{"filter":"datum.c=='o'"}],"mark":{"type":"line","fill":"#7aa0e1","stroke":"#7aa0e1","clip":true},"encoding":{"x":{"field":"x","type":"quantitative","scale":{"domain":[0.0005,0.015],"nice":false,"zero":false},"axis":{"orient":"bottom","values":[0.003,0.006,0.009,0.012],"labels":false,"title":null}},"y":{"field":"y","type":"quantitative","scale":{"domain":[-0.44,3.46],"nice":false,"zero":false},"axis":{"orient":"left","values":[0,1,2,3],"labels":false,"title":null}},"order":{"value":null}}},{"transform":[{"filter":"datum.c=='i'"}],"mark":{"type":"line","fill":"#4b6eb4","stroke":"#4b6eb4","clip":true},"encoding":{"x":{"field":"x","type":"quantitative","scale":{"domain":[0.0005,0.015],"nice":false,"zero":false},"axis":{"orient":"top","values":[0.003,0.006,0.009,0.012],"labels":false,"title":null}},"y":{"field":"y","type":"quantitative","scale":{"domain":[-0.44,3.46],"nice":false,"zero":false},"axis":{"orient":"right","values":[0,1,2,3],"labels":false,"title":null}},"order":{"value":null}}}],"resolve":{"axis":{"x":"independent","y":"independent"}}},
{"width":74.6,"height":76.7,"data":{"name":"p62"},"layer":[{"transform":[{"filter":"datum.c=='o'"}],"mark":{"type":"line","fill":"#7aa0e1","stroke":"#7aa0e1","clip":true},"encoding":{"x":{"field":"x","type":"quantitative","scale":{"domain":[0.139,0.239],"nice":false,"zero":false},"axis":{"orient":"bottom","values":[0.15,0.175,0.2,0.225],"labels":false,"title":null}},"y":{"field":"y","type":"quantitative","scale":{"domain":[-0.44,3.46],"nice":false,"zero":false},"axis":{"orient":"left","values":[0,1,2,3],"labels":false,"title":null}},"order":{"value":null}}},{"transform":[{"filter":"datum.c=='i'"}],"mark":{"type":"line","fill":"#4b6eb4","stroke":"#4b6eb4","clip":true},"encoding":{"x":{"field":"x","type":"quantitative","scale":{"domain":[0.139,0.239],"nice":false,"zero":false},"axis":{"orient":"top","values":[0.15,0.175,0.2,0.225],"labels":false,"title":null}},"y":{"field":"y","type":"quantitative","scale":{"domain":[-0.44,3.46],"nice":false,"zero":false},"axis":{"orient":"right","values":[0,1,2,3],"labels":false,"title":null}},"order":{"value":null}}}],"resolve":{"axis":{"x":"independent","y":"independent"}}},
{"width":74.6,"height":76.7,"data":{"name":"p63"},"layer":[{"transform":[{"filter":"datum.c=='o'"}],"mark":{"type":"line","fill":"#7aa0e1","stroke":"#7aa0e1","clip":true},"encoding":{"x":{"field":"x","type":"quantitative","scale":{"domain":[0.037,0.417],"nice":false,"zero":false},"axis":{"orient":"bottom","values":[0.1,0.2,0.3,0.4],"labels":false,"title":null}},"y":{"field":"y","type":"quantitative","scale":{"domain":[-0.44,3.46],"nice":false,"zero":false},"axis":{"orient":"left","values":[0,1,2,3],"labels":false,"title":null}},"order":{"value":null}}},{"transform":[{"filter":"datum.c=='i'"}],"mark":{"type":"line","fill":"#4b6eb4","stroke":"#4b6eb4","clip":true},"encoding":{"x":{"field":"x","type":"quantitative","scale":{"domain":[0.037,0.417],"nice":false,"zero":false},"axis":{"orient":"top","values":[0.1,0.2,0.3,0.4],"labels":false,"title":null}},"y":{"field":"y","type":"quantitative","scale":{"domain":[-0.44,3.46],"nice":false,"zero":false},"axis":{"orient":"right","values":[0,1,2,3],"labels":false,"title":null}},"order":{"value":null}}}],"resolve":{"axis":{"x":"independent","y":"independent"}}},
{"width":74.6,"height":76.7,"data":{"name":"p64"},"layer":[{"transform":[{"filter":"datum.c=='o'"}],"mark":{"type":"line","fill":"#7aa0e1","stroke":"#7aa0e1","clip":true},"encoding":{"x":{"field":"x","type":"quantitative","scale":{"domain":[0.0212,0.0297],"nice":false,"zero":false},"axis":{"orient":"bottom","values":[0.022,0.024,0.026,0.028],"labels":false,"title":null}},"y":{"field":"y","type":"quantitative","scale":{"domain":[-0.44,3.46],"nice":false,"zero":false},"axis":{"orient":"left","values":[0,1,2,3],"labels":false,"title":null}},"order":{"value":null}}},{"transform":[{"filter":"datum.c=='i'"}],"mark":{"type":"line","fill":"#4b6eb4","stroke":"#4b6eb4","clip":true},"encoding":{"x":{"field":"x","type":"quantitative","scale":{"domain":[0.0212,0.0297],"nice":false,"zero":false},"axis":{"orient":"top","values":[0.022,0.024,0.026,0.028],"labels":false,"title":null}},"y":{"field":"y","type":"quantitative","scale":{"domain":[-0.44,3.46],"nice":false,"zero":false},"axis":{"orient":"right","values":[0,1,2,3],"labels":false,"title":null}},"order":{"value":null}}}],"resolve":{"axis":{"x":"independent","y":"independent"}}},
{"width":74.6,"height":76.7,"data":{"name":"p65"},"layer":[{"transform":[{"filter":"datum.c=='o'"}],"mark":{"type":"line","fill":"#7aa0e1","stroke":"#7aa0e1","clip":true},"encoding":{"x":{"field":"x","type":"quantitative","scale":{"domain":[0.003,0.288],"nice":false,"zero":false},"axis":{"orient":"bottom","values":[0.06,0.12,0.18,0.24],"labels":false,"title":null}},"y":{"field":"y","type":"quantitative","scale":{"domain":[-0.44,3.46],"nice":false,"zero":false},"axis":{"orient":"left","values":[0,1,2,3],"labels":false,"title":null}},"order":{"value":null}}},{"transform":[{"filter":"datum.c=='i'"}],"mark":{"type":"line","fill":"#4b6eb4","stroke":"#4b6eb4","clip":true},"encoding":{"x":{"field":"x","type":"quantitative","scale":{"domain":[0.003,0.288],"nice":false,"zero":false},"axis":{"orient":"top","values":[0.06,0.12,0.18,0.24],"labels":false,"title":null}},"y":{"field":"y","type":"quantitative","scale":{"domain":[-0.44,3.46],"nice":false,"zero":false},"axis":{"orient":"right","values":[0,1,2,3],"labels":false,"title":null}},"order":{"value":null}}}],"resolve":{"axis":{"x":"independent","y":"independent"}}},
{"width":74.6,"height":76.7,"data":{"name":"d6"},"mark":{"type":"area","clip":true},"encoding":{"x":{"field":"x","type":"quantitative","scale":{"domain":[-0.44,3.46],"nice":false,"zero":false},"axis":{"orient":"bottom","values":[0,1,2,3],"labels":false,"title":null}},"y":{"field":"d","type":"quantitative","scale":{"domain":[0,1],"nice":false},"axis":null}}},
{"width":74.6,"height":76.7,"data":{"values":[]},"mark":"point","view":{"stroke":null}},

{"width":74.6,"height":76.7,"data":{"name":"p70"},"layer":[{"transform":[{"filter":"datum.c=='o'"}],"mark":{"type":"line","fill":"#7aa0e1","stroke":"#7aa0e1","clip":true},"encoding":{"x":{"field":"x","type":"quantitative","scale":{"domain":[0,12],"nice":false,"zero":false},"axis":{"orient":"bottom","values":[2.5,5,7.5,10],"format":".1f","title":"10⁶ϵf","labelAlign":"right","labelBaseline":"middle","labelOffset":5,"minExtent":24,"maxExtent":24,"titlePadding":3}},"y":{"field":"y","type":"quantitative","scale":{"domain":[0.16,0.475],"nice":false,"zero":false},"axis":{"orient":"left","values":[0.24,0.32,0.4],"format":".2f","title":"σln Mgas","labelAlign":"right","labelBaseline":"middle","labelOffset":-6.2,"minExtent":26,"maxExtent":26,"titlePadding":3}},"order":{"value":null}}},{"transform":[{"filter":"datum.c=='i'"}],"mark":{"type":"line","fill":"#4b6eb4","stroke":"#4b6eb4","clip":true},"encoding":{"x":{"field":"x","type":"quantitative","scale":{"domain":[0,12],"nice":false,"zero":false},"axis":{"orient":"top","values":[2.5,5,7.5,10],"labels":false,"title":null}},"y":{"field":"y","type":"quantitative","scale":{"domain":[0.16,0.475],"nice":false,"zero":false},"axis":{"orient":"right","values":[0.24,0.32,0.4],"labels":false,"title":null}},"order":{"value":null}}}],"resolve":{"axis":{"x":"independent","y":"independent"}}},
{"width":74.6,"height":76.7,"data":{"name":"p71"},"layer":[{"transform":[{"filter":"datum.c=='o'"}],"mark":{"type":"line","fill":"#7aa0e1","stroke":"#7aa0e1","clip":true},"encoding":{"x":{"field":"x","type":"quantitative","scale":{"domain":[0.0005,0.015],"nice":false,"zero":false},"axis":{"orient":"bottom","values":[0.003,0.006,0.009,0.012],"format":".3f","title":"ϵDM","labelAlign":"right","labelBaseline":"middle","labelOffset":8,"minExtent":24,"maxExtent":24,"titlePadding":3}},"y":{"field":"y","type":"quantitative","scale":{"domain":[0.16,0.475],"nice":false,"zero":false},"axis":{"orient":"left","values":[0.24,0.32,0.4],"labels":false,"title":null}},"order":{"value":null}}},{"transform":[{"filter":"datum.c=='i'"}],"mark":{"type":"line","fill":"#4b6eb4","stroke":"#4b6eb4","clip":true},"encoding":{"x":{"field":"x","type":"quantitative","scale":{"domain":[0.0005,0.015],"nice":false,"zero":false},"axis":{"orient":"top","values":[0.003,0.006,0.009,0.012],"labels":false,"title":null}},"y":{"field":"y","type":"quantitative","scale":{"domain":[0.16,0.475],"nice":false,"zero":false},"axis":{"orient":"right","values":[0.24,0.32,0.4],"labels":false,"title":null}},"order":{"value":null}}}],"resolve":{"axis":{"x":"independent","y":"independent"}}},
{"width":74.6,"height":76.7,"data":{"name":"p72"},"layer":[{"transform":[{"filter":"datum.c=='o'"}],"mark":{"type":"line","fill":"#7aa0e1","stroke":"#7aa0e1","clip":true},"encoding":{"x":{"field":"x","type":"quantitative","scale":{"domain":[0.139,0.239],"nice":false,"zero":false},"axis":{"orient":"bottom","values":[0.15,0.175,0.2,0.225],"format":".3f","title":"xbreak","labelAlign":"right","labelBaseline":"middle","labelOffset":8,"minExtent":24,"maxExtent":24,"titlePadding":3}},"y":{"field":"y","type":"quantitative","scale":{"domain":[0.16,0.475],"nice":false,"zero":false},"axis":{"orient":"left","values":[0.24,0.32,0.4],"labels":false,"title":null}},"order":{"value":null}}},{"transform":[{"filter":"datum.c=='i'"}],"mark":{"type":"line","fill":"#4b6eb4","stroke":"#4b6eb4","clip":true},"encoding":{"x":{"field":"x","type":"quantitative","scale":{"domain":[0.139,0.239],"nice":false,"zero":false},"axis":{"orient":"top","values":[0.15,0.175,0.2,0.225],"labels":false,"title":null}},"y":{"field":"y","type":"quantitative","scale":{"domain":[0.16,0.475],"nice":false,"zero":false},"axis":{"orient":"right","values":[0.24,0.32,0.4],"labels":false,"title":null}},"order":{"value":null}}}],"resolve":{"axis":{"x":"independent","y":"independent"}}},
{"width":74.6,"height":76.7,"data":{"name":"p73"},"layer":[{"transform":[{"filter":"datum.c=='o'"}],"mark":{"type":"line","fill":"#7aa0e1","stroke":"#7aa0e1","clip":true},"encoding":{"x":{"field":"x","type":"quantitative","scale":{"domain":[0.037,0.417],"nice":false,"zero":false},"axis":{"orient":"bottom","values":[0.1,0.2,0.3,0.4],"format":".1f","title":"Γ̄","labelAlign":"right","labelBaseline":"middle","labelOffset":4.4,"minExtent":24,"maxExtent":24,"titlePadding":3}},"y":{"field":"y","type":"quantitative","scale":{"domain":[0.16,0.475],"nice":false,"zero":false},"axis":{"orient":"left","values":[0.24,0.32,0.4],"labels":false,"title":null}},"order":{"value":null}}},{"transform":[{"filter":"datum.c=='i'"}],"mark":{"type":"line","fill":"#4b6eb4","stroke":"#4b6eb4","clip":true},"encoding":{"x":{"field":"x","type":"quantitative","scale":{"domain":[0.037,0.417],"nice":false,"zero":false},"axis":{"orient":"top","values":[0.1,0.2,0.3,0.4],"labels":false,"title":null}},"y":{"field":"y","type":"quantitative","scale":{"domain":[0.16,0.475],"nice":false,"zero":false},"axis":{"orient":"right","values":[0.24,0.32,0.4],"labels":false,"title":null}},"order":{"value":null}}}],"resolve":{"axis":{"x":"independent","y":"independent"}}},
{"width":74.6,"height":76.7,"data":{"name":"p74"},"layer":[{"transform":[{"filter":"datum.c=='o'"}],"mark":{"type":"line","fill":"#7aa0e1","stroke":"#7aa0e1","clip":true},"encoding":{"x":{"field":"x","type":"quantitative","scale":{"domain":[0.0212,0.0297],"nice":false,"zero":false},"axis":{"orient":"bottom","values":[0.022,0.024,0.026,0.028],"format":".3f","title":"f⁎","titleFontStyle":"italic","labelAlign":"right","labelBaseline":"middle","labelOffset":8,"minExtent":24,"maxExtent":24,"titlePadding":3}},"y":{"field":"y","type":"quantitative","scale":{"domain":[0.16,0.475],"nice":false,"zero":false},"axis":{"orient":"left","values":[0.24,0.32,0.4],"labels":false,"title":null}},"order":{"value":null}}},{"transform":[{"filter":"datum.c=='i'"}],"mark":{"type":"line","fill":"#4b6eb4","stroke":"#4b6eb4","clip":true},"encoding":{"x":{"field":"x","type":"quantitative","scale":{"domain":[0.0212,0.0297],"nice":false,"zero":false},"axis":{"orient":"top","values":[0.022,0.024,0.026,0.028],"labels":false,"title":null}},"y":{"field":"y","type":"quantitative","scale":{"domain":[0.16,0.475],"nice":false,"zero":false},"axis":{"orient":"right","values":[0.24,0.32,0.4],"labels":false,"title":null}},"order":{"value":null}}}],"resolve":{"axis":{"x":"independent","y":"independent"}}},
{"width":74.6,"height":76.7,"data":{"name":"p75"},"layer":[{"transform":[{"filter":"datum.c=='o'"}],"mark":{"type":"line","fill":"#7aa0e1","stroke":"#7aa0e1","clip":true},"encoding":{"x":{"field":"x","type":"quantitative","scale":{"domain":[0.003,0.288],"nice":false,"zero":false},"axis":{"orient":"bottom","values":[0.06,0.12,0.18,0.24],"format":".2f","title":"S⁎","titleFontStyle":"italic","labelAlign":"right","labelBaseline":"middle","labelOffset":6.2,"minExtent":24,"maxExtent":24,"titlePadding":3}},"y":{"field":"y","type":"quantitative","scale":{"domain":[0.16,0.475],"nice":false,"zero":false},"axis":{"orient":"left","values":[0.24,0.32,0.4],"labels":false,"title":null}},"order":{"value":null}}},{"transform":[{"filter":"datum.c=='i'"}],"mark":{"type":"line","fill":"#4b6eb4","stroke":"#4b6eb4","clip":true},"encoding":{"x":{"field":"x","type":"quantitative","scale":{"domain":[0.003,0.288],"nice":false,"zero":false},"axis":{"orient":"top","values":[0.06,0.12,0.18,0.24],"labels":false,"title":null}},"y":{"field":"y","type":"quantitative","scale":{"domain":[0.16,0.475],"nice":false,"zero":false},"axis":{"orient":"right","values":[0.24,0.32,0.4],"labels":false,"title":null}},"order":{"value":null}}}],"resolve":{"axis":{"x":"independent","y":"independent"}}},
{"width":74.6,"height":76.7,"data":{"name":"p76"},"layer":[{"transform":[{"filter":"datum.c=='o'"}],"mark":{"type":"line","fill":"#7aa0e1","stroke":"#7aa0e1","clip":true},"encoding":{"x":{"field":"x","type":"quantitative","scale":{"domain":[-0.44,3.46],"nice":false,"zero":false},"axis":{"orient":"bottom","values":[0,1,2,3],"format":"d","title":"γ","labelAlign":"right","labelBaseline":"middle","labelOffset":1.8,"minExtent":24,"maxExtent":24,"titlePadding":3}},"y":{"field":"y","type":"quantitative","scale":{"domain":[0.16,0.475],"nice":false,"zero":false},"axis":{"orient":"left","values":[0.24,0.32,0.4],"labels":false,"title":null}},"order":{"value":null}}},{"transform":[{"filter":"datum.c=='i'"}],"mark":{"type":"line","fill":"#4b6eb4","stroke":"#4b6eb4","clip":true},"encoding":{"x":{"field":"x","type":"quantitative","scale":{"domain":[-0.44,3.46],"nice":false,"zero":false},"axis":{"orient":"top","values":[0,1,2,3],"labels":false,"title":null}},"y":{"field":"y","type":"quantitative","scale":{"domain":[0.16,0.475],"nice":false,"zero":false},"axis":{"orient":"right","values":[0.24,0.32,0.4],"labels":false,"title":null}},"order":{"value":null}}}],"resolve":{"axis":{"x":"independent","y":"independent"}}},
{"width":74.6,"height":76.7,"data":{"name":"d7"},"mark":{"type":"area","clip":true},"encoding":{"x":{"field":"x","type":"quantitative","scale":{"domain":[0.16,0.475],"nice":false,"zero":false},"axis":{"orient":"bottom","values":[0.2,0.3,0.4],"format":".1f","title":"σln Mgas","labelAlign":"right","labelBaseline":"middle","labelOffset":4.4,"minExtent":24,"maxExtent":24,"titlePadding":3}},"y":{"field":"d","type":"quantitative","scale":{"domain":[0,1],"nice":false},"axis":null}}}
]
}
